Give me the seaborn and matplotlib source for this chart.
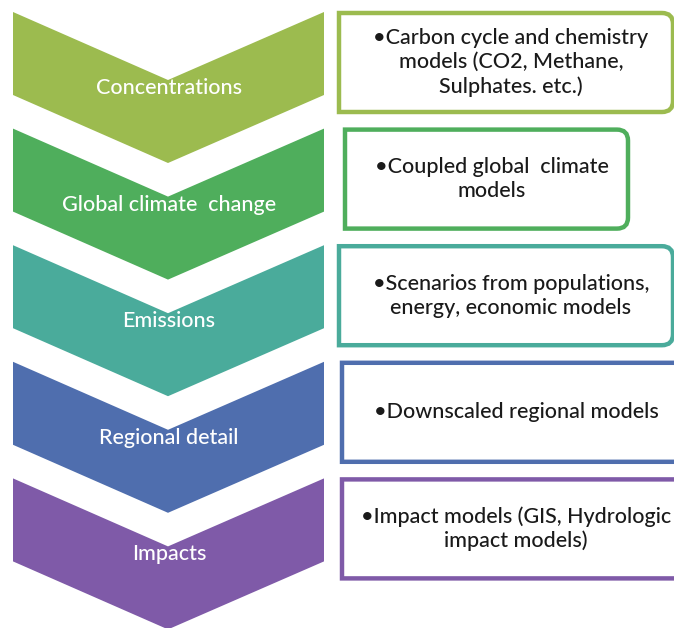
import matplotlib.pyplot as plt
import seaborn as sns
from matplotlib.patches import Polygon, PathPatch
from matplotlib.path import Path

# stages of the chain, top to bottom
stages = ['Concentrations', 'Global climate  change', 'Emissions',
          'Regional detail', 'Impacts']
details = [
    '\u2022Carbon cycle and chemistry\nmodels (CO2, Methane,\nSulphates. etc.)',
    '\u2022Coupled global  climate\nmodels',
    '\u2022Scenarios from populations,\nenergy, economic models',
    '\u2022Downscaled regional models',
    '\u2022Impact models (GIS, Hydrologic\nimpact models)',
]
stage_colors = ['#9cbb4f', '#4fae5c', '#4aab9b', '#4f6eae', '#7f5aa8']

# layout (pixels)
W, H = 674, 628
step = 116.6
top0 = 12
chev_left, chev_right, chev_mid = 13, 324, 168
notch, side = 68, 83
box_left = [339, 345, 339, 342, 342]
box_right = [673, 628, 673, 692, 700]
box_h = 99


def side_box(x0, y0, x1, y1, r=11):
    # square left corners, rounded right corners (y axis points down)
    verts = [(x0, y0), (x1 - r, y0), (x1, y0), (x1, y0 + r),
             (x1, y1 - r), (x1, y1), (x1 - r, y1), (x0, y1), (x0, y0)]
    codes = [Path.MOVETO, Path.LINETO, Path.CURVE3, Path.CURVE3,
             Path.LINETO, Path.CURVE3, Path.CURVE3, Path.LINETO, Path.CLOSEPOLY]
    return Path(verts, codes)


sns.set_theme(style='white')
plt.rcParams['font.family'] = ['Lato', 'DejaVu Sans']

fig = plt.figure(figsize=(W / 100, H / 100), dpi=100)
ax = fig.add_axes([0, 0, 1, 1])
ax.set_xlim(0, W)
ax.set_ylim(H, 0)
ax.axis('off')

for i, (stage, text, color) in enumerate(zip(stages, details, stage_colors)):
    top = top0 + step * i
    chevron = Polygon([(chev_left, top), (chev_mid, top + notch),
                       (chev_right, top), (chev_right, top + side),
                       (chev_mid, top + side + notch), (chev_left, top + side)],
                      closed=True, facecolor=color, edgecolor='none')
    ax.add_patch(chevron)
    ax.text(chev_mid + 1, top + 76, stage, color='white', fontsize=15.5,
            fontweight='medium', ha='center', va='center')

    y0 = top + 1
    y1 = y0 + box_h
    box = PathPatch(side_box(box_left[i], y0, box_right[i], y1),
                    facecolor='white', edgecolor=color, linewidth=3.2)
    ax.add_patch(box)
    cx = (box_left[i] + min(box_right[i], 680)) / 2 + 5
    ax.text(cx, (y0 + y1) / 2, text, color='#1a1a1a', fontsize=15.5,
            fontweight='medium', ha='center', va='center', linespacing=1.24)

fig.savefig('out.png', dpi=100, facecolor='white')
